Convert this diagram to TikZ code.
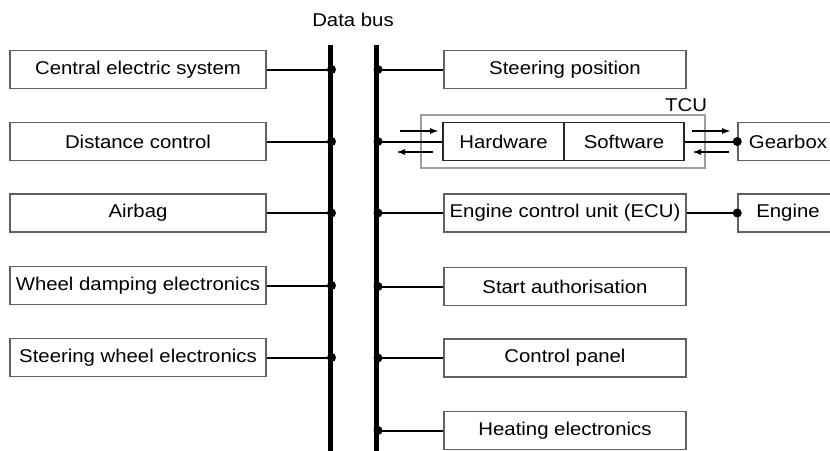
\documentclass[tikz,border=0pt]{standalone}
\usepackage{fontspec}
\setmainfont{Liberation Sans}[FakeStretch=1.1]
\usetikzlibrary{arrows.meta}
\definecolor{boxgray}{gray}{0.38}
\definecolor{tcugray}{gray}{0.62}
\begin{document}
\begin{tikzpicture}[x=1pt,y=-1pt,
  box/.style={draw=boxgray, line width=1.5pt, minimum height=38pt, inner sep=0pt,
              font=\fontsize{18.5}{21}\selectfont},
  lbox/.style={box, minimum width=256pt},
  rbox/.style={box, minimum width=242pt},
  busline/.style={line width=4.5pt},
  wire/.style={line width=2pt},
  dot/.style={circle, fill=black, inner sep=0pt, minimum size=9pt},
  arr/.style={line width=1.6pt, -{Latex[length=9pt,width=6pt]}},
  lbl/.style={font=\fontsize{18.5}{21}\selectfont, inner sep=0pt}]
\useasboundingbox (0,0) rectangle (830,450);
\fill[white] (0,0) rectangle (830,450);

% data bus
\coordinate (busLt) at (330.5,45);
\coordinate (busLb) at (330.5,452);
\coordinate (busRt) at (376.5,45);
\coordinate (busRb) at (376.5,452);
\draw[busline] (busLt) -- (busLb);
\draw[busline] (busRt) -- (busRb);
\node[lbl] (buslabel) at (353,20) {Data bus};

% left column
\foreach \n/\y/\t in {1/69.5/Central electric system, 2/141.5/Distance control,
                      3/213/Airbag, 4/285.5/Wheel damping electronics,
                      5/357.5/Steering wheel electronics} {
  \node[lbox] (L\n) at (138,\y) {\t};
  \draw[wire] (L\n.east) -- (L\n.east -| busLt) node[dot, xshift=1pt] (jL\n) {};
}

% right column
\foreach \n/\y/\t in {1/69.5/Steering position, 3/213/Engine control unit (ECU),
                      4/286.5/Start authorisation, 5/358/Control panel,
                      6/430.5/Heating electronics} {
  \node[rbox] (R\n) at (565,\y) {\t};
  \draw[wire] (R\n.west) -- (R\n.west -| busRt) node[dot, xshift=1.5pt] (jR\n) {};
}

% TCU
\node[draw=tcugray, line width=2.4pt, minimum width=284pt, minimum height=53pt, inner sep=0pt]
  (tcu) at (563,141.5) {};
\node[lbl, anchor=south east] (tculabel) at ([xshift=1pt,yshift=2pt]tcu.north east) {TCU};
\node[box, draw=black!85, minimum width=121pt] (hw) at (503.5,141.5) {Hardware};
\node[box, draw=black!85, minimum width=120pt] (sw) at (624,141.5) {Software};
\draw[wire] (hw.west) -- (hw.west -| busRt) node[dot, xshift=1.5pt] (jR2) {};

% gearbox & engine
\node[box, minimum width=110pt] (gear) at (793,141.5) {\hspace*{-10pt}Gearbox};
\node[box, minimum width=110pt] (engine) at (793,213) {\hspace*{-10pt}Engine};
\draw[wire] (sw.east) -- (gear.west) node[dot] (jG) {};
\draw[wire] (R3.east) -- (engine.west) node[dot] (jE) {};

% arrows
\coordinate (a1s) at (400,131); \coordinate (a1e) at (439,131);
\coordinate (a2s) at (433,152); \coordinate (a2e) at (396,152);
\coordinate (a3s) at (692,131); \coordinate (a3e) at (731,131);
\coordinate (a4s) at (729,152); \coordinate (a4e) at (692,152);
\draw[arr] (a1s) -- (a1e);
\draw[arr] (a2s) -- (a2e);
\draw[arr] (a3s) -- (a3e);
\draw[arr] (a4s) -- (a4e);
\end{tikzpicture}
\end{document}
